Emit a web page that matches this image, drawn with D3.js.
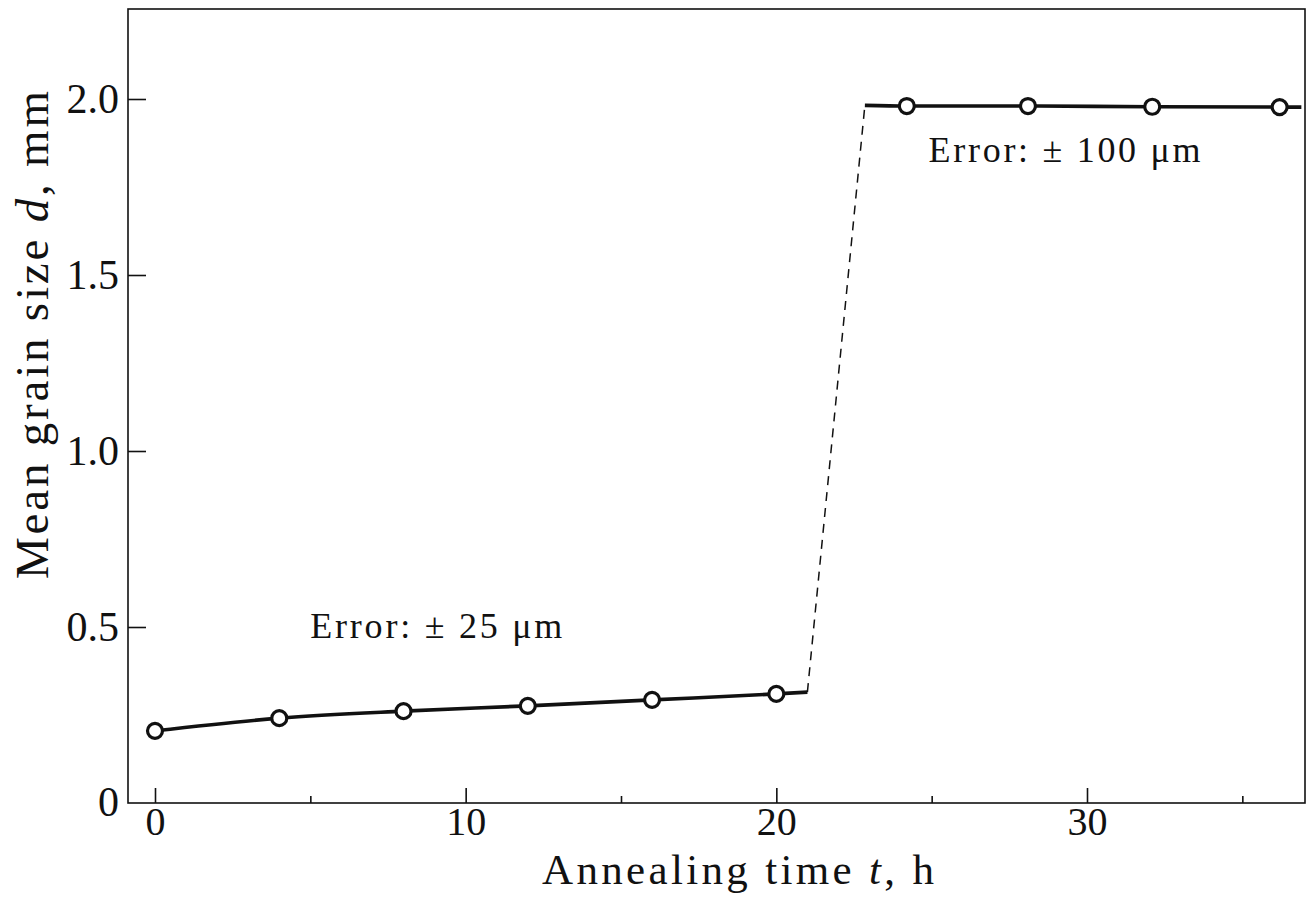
<!DOCTYPE html>
<html>
<head>
<meta charset="utf-8">
<script src="https://cdn.jsdelivr.net/npm/d3@7"></script>
<style>
  html, body { margin: 0; padding: 0; background: #fff; }
  svg { display: block; }
  text { font-family: "Liberation Serif", "DejaVu Serif", serif; fill: #111; }
</style>
</head>
<body>
<svg id="chart" width="1311" height="905"></svg>
<script>
// ---- data ----
const lowTimes   = [0, 4, 8, 12, 16, 20];
const lowSizes   = [0.205, 0.241, 0.261, 0.276, 0.293, 0.310];
const lowEnd     = [21.0, 0.315];          // end of solid lower curve
const highStart  = [22.85, 1.982];         // start of solid upper line
const highTimes  = [24.2, 28.1, 32.1, 36.2];
const highSizes  = [1.980, 1.980, 1.978, 1.977];
const highEnd    = [36.9, 1.977];
const xMajorTicks = [0, 10, 20, 30];
const xMinorTicks = [5, 15, 25, 35];
const yTicks      = [0.5, 1.0, 1.5, 2.0];
const yTickLabels = ["0.5", "1.0", "1.5", "2.0"];
const annotations = [
  { t: 5.0, d: 0.47, text: "Error: \u00B1  25 \u03BCm" },
  { t: 24.9, d: 1.82, text: "Error: \u00B1  100 \u03BCm" }
];

// ---- layout ----
const L = 128, R = 1305, T = 9, B = 803;
const svg = d3.select("#chart");

const x = d3.scaleLinear().domain([0, 30]).range([155, 1087]);
const y = d3.scaleLinear().domain([0, 2]).range([803, 99]);

// frame
svg.append("rect")
  .attr("x", L).attr("y", T).attr("width", R - L).attr("height", B - T)
  .attr("fill", "none").attr("stroke", "#111").attr("stroke-width", 1.6);

// x axis (major ticks, inward)
const gx = svg.append("g").attr("transform", `translate(0,${B})`)
  .call(d3.axisBottom(x).tickValues(xMajorTicks).tickSizeInner(-15).tickSizeOuter(0).tickPadding(4)
    .tickFormat(d3.format("d")));
gx.select(".domain").remove();
gx.selectAll(".tick line").attr("stroke", "#111").attr("stroke-width", 1.6);
gx.selectAll(".tick text").attr("font-size", 40).attr("font-family", "Liberation Serif").attr("fill", "#111");

const gxm = svg.append("g").attr("transform", `translate(0,${B})`)
  .call(d3.axisBottom(x).tickValues(xMinorTicks).tickSizeInner(-7).tickSizeOuter(0).tickFormat(""));
gxm.select(".domain").remove();
gxm.selectAll(".tick line").attr("stroke", "#111").attr("stroke-width", 1.6);

// y axis
const gy = svg.append("g").attr("transform", `translate(${L},0)`)
  .call(d3.axisLeft(y).tickValues(yTicks).tickSizeInner(-18).tickSizeOuter(0).tickPadding(9)
    .tickFormat((d, i) => yTickLabels[i]));
gy.select(".domain").remove();
gy.selectAll(".tick line").attr("stroke", "#111").attr("stroke-width", 1.6);
gy.selectAll(".tick text").attr("font-size", 42).attr("font-family", "Liberation Serif").attr("fill", "#111");

// y "0" label (no tick)
svg.append("text").attr("x", L - 9).attr("y", y(0)).attr("dy", "0.32em")
  .attr("text-anchor", "end").attr("font-size", 42).text("0");

// axis titles
const xt = svg.append("text").attr("x", 738).attr("y", 884).attr("text-anchor", "middle")
  .attr("font-size", 43).attr("textLength", 392).attr("lengthAdjust", "spacing");
xt.append("tspan").text("Annealing time  ");
xt.append("tspan").attr("font-style", "italic").text("t");
xt.append("tspan").text(", h");

const yt = svg.append("text").attr("transform", "translate(48,335) rotate(-90)")
  .attr("text-anchor", "middle").attr("font-size", 47).attr("textLength", 488).attr("lengthAdjust", "spacing");
yt.append("tspan").text("Mean grain size  ");
yt.append("tspan").attr("font-style", "italic").text("d");
yt.append("tspan").text(", mm");

// data lines
const line = d3.line().x(d => x(d[0])).y(d => y(d[1])).curve(d3.curveMonotoneX);
const lowPts = lowTimes.map((t, i) => [t, lowSizes[i]]).concat([lowEnd]);
const highPts = [highStart].concat(highTimes.map((t, i) => [t, highSizes[i]]), [highEnd]);

svg.append("path").datum(lowPts).attr("d", line)
  .attr("fill", "none").attr("stroke", "#111").attr("stroke-width", 3.6);
svg.append("path").datum(highPts).attr("d", line)
  .attr("fill", "none").attr("stroke", "#111").attr("stroke-width", 3.6);
// dashed jump
svg.append("path").datum([lowEnd, highStart]).attr("d", d3.line().x(d => x(d[0])).y(d => y(d[1])))
  .attr("fill", "none").attr("stroke", "#111").attr("stroke-width", 1.5)
  .attr("stroke-dasharray", "9,7");

// markers
const allPts = lowTimes.map((t, i) => [t, lowSizes[i]]).concat(highTimes.map((t, i) => [t, highSizes[i]]));
svg.append("g").selectAll("circle").data(allPts).join("circle")
  .attr("cx", d => x(d[0])).attr("cy", d => y(d[1])).attr("r", 7.5)
  .attr("fill", "#fff").attr("stroke", "#111").attr("stroke-width", 3.2);

// annotations
svg.append("g").selectAll("text").data(annotations).join("text")
  .attr("x", d => x(d.t)).attr("y", d => y(d.d))
  .attr("font-size", 36).attr("textLength", (d, i) => i === 0 ? 252 : 272).attr("lengthAdjust", "spacing")
  .text(d => d.text);
</script>
</body>
</html>
